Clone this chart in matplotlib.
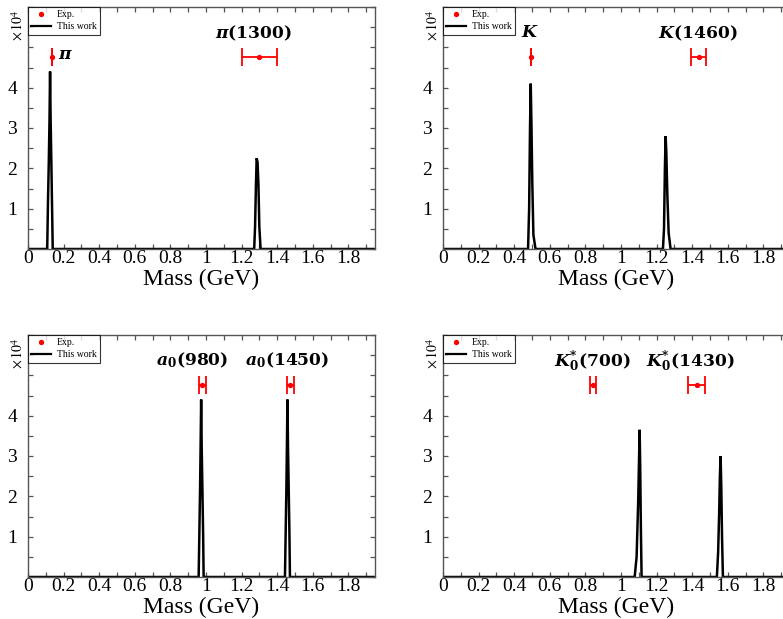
import matplotlib
matplotlib.use("Agg")
import matplotlib.pyplot as plt
from matplotlib.ticker import MultipleLocator, FuncFormatter
from matplotlib.lines import Line2D

plt.rcParams['font.family'] = ['Liberation Serif', 'DejaVu Serif']
plt.rcParams['mathtext.fontset'] = 'dejavuserif'

# ---------------- data (mass in GeV, counts in units of 1e4) ----------------
# Panel 1: pi and pi(1300)
mass_pi = [0.0, 0.108, 0.112, 0.117, 0.121, 0.124, 0.127, 0.131, 0.135, 0.139,
           1.271, 1.276, 1.281, 1.285, 1.290, 1.295, 1.300, 1.307, 1.95]
counts_pi = [0.0, 0.0, 1.1, 2.2, 3.25, 4.4, 3.25, 2.2, 1.1, 0.0,
             0.0, 0.55, 1.6, 2.25, 2.15, 1.6, 0.55, 0.0, 0.0]
exp_pi_mass = [0.135, 1.30]
exp_pi_err = [0.0005, 0.10]
labels_pi = [r'$\boldsymbol{\pi}$', r'$\boldsymbol{\pi}\mathbf{(1300)}$']

# Panel 2: K and K(1460)
mass_k = [0.0, 0.478, 0.484, 0.489, 0.493, 0.497, 0.502, 0.508, 0.520,
          1.236, 1.242, 1.247, 1.251, 1.255, 1.261, 1.268, 1.279, 1.95]
counts_k = [0.0, 0.0, 1.0, 3.0, 4.1, 3.1, 1.6, 0.35, 0.0,
            0.0, 0.5, 2.0, 2.8, 2.4, 1.3, 0.4, 0.0, 0.0]
exp_k_mass = [0.494, 1.437]
exp_k_err = [0.0005, 0.043]
labels_k = [r'$\boldsymbol{K}$', r'$\boldsymbol{K}\mathbf{(1460)}$']

# Panel 3: a0(980) and a0(1450)
mass_a0 = [0.0, 0.959, 0.963, 0.967, 0.970, 0.973, 0.976, 0.980, 0.984, 0.987,
           1.444, 1.448, 1.452, 1.455, 1.458, 1.461, 1.465, 1.469, 1.472, 1.95]
counts_a0 = [0.0, 0.0, 1.1, 2.2, 3.25, 4.4, 3.25, 2.2, 1.1, 0.0,
             0.0, 1.1, 2.2, 3.25, 4.4, 3.25, 2.2, 1.1, 0.0, 0.0]
exp_a0_mass = [0.980, 1.474]
exp_a0_err = [0.020, 0.019]
labels_a0 = [r'$\boldsymbol{a}_{\mathbf{0}}\mathbf{(980)}$',
             r'$\boldsymbol{a}_{\mathbf{0}}\mathbf{(1450)}$']

# Panel 4: K0*(700) and K0*(1430)
mass_k0 = [0.0, 1.077, 1.088, 1.097, 1.102, 1.105, 1.108, 1.112, 1.116,
           1.539, 1.546, 1.552, 1.556, 1.560, 1.564, 1.568, 1.573, 1.95]
counts_k0 = [0.0, 0.0, 0.5, 1.9, 3.0, 3.65, 2.8, 1.2, 0.0,
             0.0, 0.6, 1.6, 2.5, 3.0, 2.2, 1.0, 0.0, 0.0]
exp_k0_mass = [0.845, 1.425]
exp_k0_err = [0.017, 0.050]
labels_k0 = [r'$\boldsymbol{K}_{\mathbf{0}}^{\boldsymbol{*}}\mathbf{(700)}$',
             r'$\boldsymbol{K}_{\mathbf{0}}^{\boldsymbol{*}}\mathbf{(1430)}$']

exp_y = 4.75
label_pos = {
    0: [(0.21, 4.80), (1.265, 5.35)],
    1: [(0.49, 5.35), (1.43, 5.35)],
    2: [(0.92, 5.38), (1.455, 5.38)],
    3: [(0.84, 5.34), (1.39, 5.34)],
}

panels = [
    (mass_pi, counts_pi, exp_pi_mass, exp_pi_err, labels_pi),
    (mass_k, counts_k, exp_k_mass, exp_k_err, labels_k),
    (mass_a0, counts_a0, exp_a0_mass, exp_a0_err, labels_a0),
    (mass_k0, counts_k0, exp_k0_mass, exp_k0_err, labels_k0),
]

W, H = 783, 619
fig = plt.figure(figsize=(W / 100, H / 100), dpi=100)

axes_px = [(28, 249), (443, 249), (28, 577), (443, 577)]  # left, bottom (px from top)
aw, ah = 347, 242

spine_col = '#555555'


def xfmt(v, pos):
    r = round(v * 10)
    if r % 2 != 0:
        return ''
    s = '%.1f' % (r / 10)
    if s.endswith('.0'):
        s = s[:-2]
    return s


def yfmt(v, pos):
    if abs(v - round(v)) < 1e-6 and 1 <= round(v) <= 4:
        return '%d' % round(v)
    return ''


for i, (mx, cy, em, ee, labs) in enumerate(panels):
    lpx, bpx = axes_px[i]
    ax = fig.add_axes([lpx / W, (H - bpx) / H, aw / W, ah / H])
    ax.plot(mx, cy, color='black', lw=1.8, solid_joinstyle='miter')
    ax.errorbar(em, [exp_y] * len(em), xerr=ee, fmt='o', color='red',
                ms=2.8, lw=1.3, capsize=6.5, capthick=1.3)
    for (tx, ty), lab in zip(label_pos[i], labs):
        ax.text(tx, ty, lab, ha='center', va='center', fontsize=12.3, color='black')
    ax.set_xlim(0, 1.95)
    ax.set_ylim(0, 6)
    ax.xaxis.set_major_locator(MultipleLocator(0.1))
    ax.xaxis.set_major_formatter(FuncFormatter(xfmt))
    ax.yaxis.set_major_locator(MultipleLocator(0.5))
    ax.yaxis.set_major_formatter(FuncFormatter(yfmt))
    ax.tick_params(which='both', direction='in', top=True, right=True,
                   length=3.5, width=0.9, color=spine_col, labelsize=14)
    ax.tick_params(axis='x', pad=1)
    ax.tick_params(axis='y', pad=8)
    for s in ax.spines.values():
        s.set_color(spine_col)
        s.set_linewidth(1.0)
    ax.set_xlabel('Mass (GeV)', fontsize=17, labelpad=1)
    ax.text(-0.029, 0.925, r'$\times\,10^4$', transform=ax.transAxes,
            rotation=90, ha='center', va='center', fontsize=10,
            math_fontfamily='stix')
    handles = [
        Line2D([], [], color='red', marker='o', ls='none', ms=2.8),
        Line2D([], [], color='black', lw=1.6),
    ]
    leg = ax.legend(handles, ['Exp.', 'This work'], loc='upper left',
                    fontsize=7, frameon=True, fancybox=False,
                    borderaxespad=0.0, handlelength=2.0, borderpad=0.35,
                    labelspacing=0.3, handletextpad=0.6)
    leg.get_frame().set_edgecolor('black')
    leg.get_frame().set_linewidth(0.8)

fig.savefig('out.png', dpi=100)
